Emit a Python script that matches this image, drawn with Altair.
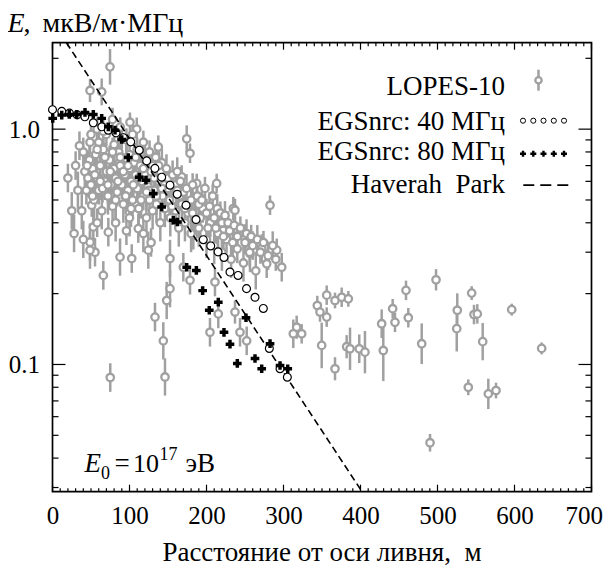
import altair as alt
import pandas as pd

# ---------------- data ----------------
# LOPES-10: distance (m), field (uV/m/MHz), relative error
lopes_d = [74.7, 48.7, 63.9, 100.6, 109.4, 48.7, 46.5, 137.4, 174.3, 178.6, 167.8, 187.3, 213.2, 234.8,
           50.9, 74.7, 53, 72.5, 48.7, 55.2, 87.7, 102.9, 111.4, 152.6, 124.4, 66, 48.7,
           282.5, 237, 250, 256.5, 271.7, 291.2, 278.2, 297.7, 152.6, 148.3, 133.1, 143.9, 146.1,
           178.6, 211, 215.3, 237, 243.5, 252.2, 204.5, 182.9, 221.8, 169.9, 317.1, 312.7, 382, 75,
           323.6, 343.9, 347.4, 356.1, 356.1, 366.9, 375.6, 384.2, 349.6, 366.9, 386.4, 398.4, 405.8,
           427.5, 429.6, 441.8, 444.8, 459.1, 462.1, 479.5, 490.3, 498.1, 525.7, 525, 544.4, 547.4,
           551.7, 540, 558.7, 566, 576, 596.4, 635.3,
           40, 42, 44, 46, 48, 50, 52, 54, 56, 58, 60, 62, 64, 66, 68, 70, 72, 74, 76, 78, 80, 82, 84,
           86, 88, 90, 92, 94, 96, 98, 100, 102, 104, 106, 108, 110, 112, 114, 116, 118, 120, 122, 124,
           126, 128, 130, 132, 135, 138, 140, 143, 146, 150, 153, 156, 160, 164, 168, 172, 176, 180,
           185, 190, 195, 200, 205, 210, 215, 220, 226, 232, 240, 248, 256, 264,
           45, 55, 65, 75, 85, 95, 105, 115, 125, 135, 145, 155, 165, 60, 70, 80, 90, 100, 110, 120,
           130, 140, 150, 160, 170, 180, 190, 200, 210, 220, 230, 240, 250, 260, 270, 280, 290,
           38, 40, 58, 82, 96, 118, 128, 100,
           20, 25, 30, 33, 28, 35,
           50, 58, 66, 78, 88, 96, 104, 118, 126, 134, 142, 148, 156, 162, 166, 174, 182, 188, 194, 198,
           204, 208, 214, 218, 224, 228, 236, 244, 252, 258, 266, 274, 286,
           52, 62, 72, 82, 92, 102, 112, 122, 132, 142, 152, 162, 172, 182, 192, 202, 212, 222, 234,
           58, 68, 78, 88, 98, 108, 118, 128, 138]
lopes_e = [1.84, 1.46, 1.44, 1.07, 1.0, 0.88, 0.70, 0.84, 0.91, 0.79, 0.627, 0.588, 0.588, 0.46,
           0.475, 0.524, 0.384, 0.365, 0.331, 0.30, 0.286, 0.282, 0.378, 0.282, 0.306, 0.239, 0.306,
           0.475, 0.452, 0.343, 0.296, 0.311, 0.306, 0.268, 0.259, 0.210, 0.187, 0.159, 0.126, 0.0885,
           0.228, 0.224, 0.164, 0.167, 0.137, 0.126, 0.137, 0.354, 0.372, 0.259, 0.144, 0.135, 0.119, 0.088,
           0.135, 0.178, 0.167, 0.197, 0.159, 0.187, 0.193, 0.190, 0.1205, 0.0959, 0.1166, 0.1166, 0.1128,
           0.149, 0.1147, 0.1726, 0.151, 0.2065, 0.158, 0.1225, 0.0465, 0.229, 0.170, 0.142, 0.201, 0.163,
           0.164, 0.080, 0.125, 0.075, 0.0775, 0.171, 0.117,
           0.80, 0.66, 0.55, 0.62, 0.74, 0.58, 0.68, 0.50, 0.78, 0.62, 0.55, 0.70, 0.45, 0.82, 0.60, 0.66,
           0.52, 0.74, 0.58, 0.47, 0.68, 0.62, 0.54, 0.80, 0.70, 0.58, 0.48, 0.64, 0.75, 0.55, 0.68, 0.60,
           0.50, 0.72, 0.64, 0.56, 0.46, 0.70, 0.60, 0.52, 0.65, 0.42, 0.57, 0.50, 0.62, 0.45, 0.55, 0.48,
           0.60, 0.40, 0.52, 0.46, 0.56, 0.42, 0.50, 0.45, 0.38, 0.48, 0.40, 0.44, 0.36, 0.42, 0.38, 0.46,
           0.34, 0.40, 0.32, 0.36, 0.30, 0.34, 0.28, 0.31, 0.27, 0.30, 0.25,
           0.70, 0.64, 0.56, 0.66, 0.60, 0.52, 0.58, 0.50, 0.55, 0.52, 0.58, 0.47, 0.52, 0.88, 0.95, 0.86,
           0.92, 0.78, 0.82, 0.74, 0.70, 0.66, 0.62, 0.58, 0.54, 0.50, 0.48, 0.44, 0.42, 0.40, 0.37, 0.35,
           0.33, 0.32, 0.30, 0.29, 0.28,
           0.45, 0.34, 0.40, 0.40, 0.37, 0.36, 0.33, 0.42,
           0.62, 0.45, 0.70, 0.55, 0.36, 0.85,
           0.95, 1.0, 0.98, 1.1, 1.02, 0.90, 0.95, 0.88, 0.80, 0.76, 0.72, 0.68, 0.64, 0.66, 0.60, 0.56,
           0.58, 0.52, 0.50, 0.56, 0.47, 0.52, 0.46, 0.44, 0.43, 0.40, 0.39, 0.38, 0.36, 0.35, 0.34, 0.33,
           0.32,
           0.52, 0.60, 0.58, 0.50, 0.66, 0.46, 0.62, 0.54, 0.62, 0.56, 0.50, 0.55, 0.46, 0.44, 0.42, 0.38,
           0.38, 0.35, 0.33,
           0.82, 0.76, 0.80, 0.76, 0.70, 0.76, 0.68, 0.66, 0.70]
lopes_r = [0.19, 0.12, 0.14, 0.10, 0.12, 0.12, 0.15, 0.12, 0.14, 0.10, 0.12, 0.10, 0.10, 0.12,
           0.12, 0.12, 0.15, 0.15, 0.20, 0.15, 0.20, 0.15, 0.15, 0.20, 0.20, 0.15, 0.20,
           0.10, 0.12, 0.15, 0.20, 0.15, 0.12, 0.15, 0.15, 0.20, 0.20, 0.15, 0.20, 0.20,
           0.15, 0.15, 0.15, 0.12, 0.15, 0.15, 0.15, 0.15, 0.15, 0.15, 0.12, 0.15, 0.12, 0.15,
           0.10, 0.10, 0.10, 0.10, 0.10, 0.08, 0.10, 0.08, 0.25, 0.12, 0.23, 0.15, 0.23,
           0.15, 0.35, 0.10, 0.10, 0.10, 0.10, 0.22, 0.09, 0.11, 0.18, 0.25, 0.07, 0.10,
           0.10, 0.08, 0.20, 0.16, 0.08, 0.06, 0.06,
           0.15, 0.20, 0.15, 0.20, 0.15, 0.20, 0.15, 0.20, 0.15, 0.20, 0.15, 0.20, 0.20, 0.15, 0.20, 0.15,
           0.20, 0.15, 0.20, 0.20, 0.15, 0.20, 0.15, 0.15, 0.20, 0.15, 0.20, 0.15, 0.20, 0.15, 0.20, 0.15,
           0.20, 0.15, 0.20, 0.15, 0.20, 0.15, 0.20, 0.15, 0.20, 0.20, 0.15, 0.20, 0.15, 0.20, 0.15, 0.20,
           0.15, 0.20, 0.15, 0.20, 0.15, 0.20, 0.15, 0.20, 0.20, 0.15, 0.20, 0.15, 0.20, 0.15, 0.20, 0.15,
           0.20, 0.15, 0.20, 0.15, 0.20, 0.15, 0.20, 0.15, 0.20, 0.15, 0.20,
           0.15, 0.20, 0.15, 0.20, 0.15, 0.20, 0.15, 0.20, 0.15, 0.20, 0.15, 0.20, 0.15, 0.15, 0.12, 0.15,
           0.12, 0.15, 0.12, 0.15, 0.12, 0.15, 0.12, 0.15, 0.12, 0.15, 0.12, 0.15, 0.12, 0.15, 0.12, 0.15,
           0.12, 0.15, 0.12, 0.15, 0.12,
           0.20, 0.20, 0.15, 0.20, 0.15, 0.20, 0.15, 0.20,
           0.15, 0.20, 0.15, 0.20, 0.20, 0.15,
           0.12, 0.12, 0.12, 0.12, 0.10, 0.12, 0.12, 0.12, 0.12, 0.12, 0.15, 0.15, 0.15, 0.15, 0.15, 0.15,
           0.12, 0.15, 0.15, 0.12, 0.15, 0.12, 0.15, 0.12, 0.15, 0.12, 0.15, 0.12, 0.15, 0.12, 0.15, 0.12,
           0.15,
           0.20, 0.20, 0.20, 0.20, 0.20, 0.20, 0.20, 0.20, 0.20, 0.20, 0.20, 0.20, 0.20, 0.20, 0.20, 0.20,
           0.20, 0.20, 0.20,
           0.15, 0.15, 0.15, 0.15, 0.15, 0.15, 0.15, 0.15, 0.15]

# EGSnrc 40 MHz
egs40_d = [0, 12, 22, 32, 42, 53, 64, 72.5, 82.5, 92, 101.6, 112.7, 122.3, 133, 141.8, 152.6, 162,
           173.4, 186.4, 195.8, 205.5, 215, 222.7, 230.5, 241, 252, 263, 273.8, 281.6, 295.5, 305]
egs40_e = [1.21, 1.19, 1.17, 1.15, 1.128, 1.064, 1.023, 0.990, 0.964, 0.92, 0.883, 0.814, 0.733,
           0.681, 0.625, 0.578, 0.529, 0.475, 0.413, 0.339, 0.319, 0.301, 0.285, 0.247, 0.239, 0.210,
           0.193, 0.173, 0.117, 0.0959, 0.0883]

# EGSnrc 80 MHz
egs80_d = [0.3, 12, 21.8, 31.4, 42.2, 53, 63.9, 72.5, 81.2, 89.9, 98.4, 112.7, 121.4, 130.9, 141.8,
           156.9, 162.1, 174.3, 186.8, 195, 203.6, 215.3, 222.7, 230.5, 240, 251.3, 263, 271.7, 282.5,
           295.5, 305.5]
egs80_e = [1.111, 1.147, 1.155, 1.155, 1.178, 1.155, 1.111, 1.023, 0.990, 0.904, 0.758, 0.625, 0.607,
           0.532, 0.467, 0.410, 0.403, 0.259, 0.251, 0.206, 0.170, 0.184, 0.137, 0.122, 0.101, 0.158,
           0.106, 0.0959, 0.1226, 0.099, 0.0959]

# Haverah Park parametrisation (straight line in log scale)
hp_d = [18, 402]
hp_e = [2.33, 0.0288]

x_ticks = [0, 100, 200, 300, 400, 500, 600, 700]
y_ticks = [0.1, 1.0]
x_minor = [v for v in range(0, 701, 10) if v % 100 != 0]
y_minor = [0.03, 0.04, 0.05, 0.06, 0.07, 0.08, 0.09, 0.2, 0.3, 0.4, 0.5, 0.6, 0.7, 0.8, 0.9, 2.0]

legend_labels = ["LOPES-10", "EGSnrc: 40 МГц", "EGSnrc: 80 МГц", "Haverah\u00a0\u00a0Park"]

# ---------------- chart ----------------
W, H = 539, 449
FONT = "Liberation Serif"
GREY = "#a0a0a0"

xs = alt.Scale(domain=[0, 700], nice=False, zero=False)
ys = alt.Scale(type="log", domain=[0.0288, 2.33], nice=False)
XAX = alt.Axis(values=x_ticks, format="d", ticks=False, domain=False, grid=False, labelFlush=False,
               labelAlign=alt.expr("datum.value == 700 ? 'right' : 'center'"),
               labelOffset=alt.expr("datum.value == 700 ? 11 : 0"),
               labelFont=FONT, labelFontSize=25, labelColor="black", labelPadding=12, title=None)
YAX = alt.Axis(values=y_ticks, format=".1f", ticks=False, domain=False, grid=False, labelFlush=False,
               labelFont=FONT, labelFontSize=25, labelColor="black", labelPadding=13, title=None)

lopes = pd.DataFrame({"d": lopes_d, "e": lopes_e, "r": lopes_r})
lopes["lo"] = lopes["e"] / (1 + lopes["r"])
lopes["hi"] = lopes["e"] * (1 + lopes["r"])
e40 = pd.DataFrame({"d": egs40_d, "e": egs40_e})
e80 = pd.DataFrame({"d": egs80_d, "e": egs80_e})
hp = pd.DataFrame({"d": hp_d, "e": hp_e})


def X(f="d"):
    return alt.X(f"{f}:Q", scale=xs, axis=XAX)


def Y(f="e"):
    return alt.Y(f"{f}:Q", scale=ys, axis=YAX)


err = alt.Chart(lopes).mark_rule(color=GREY, strokeWidth=2.5).encode(x=X(), y=Y("lo"), y2="hi:Q")
pts = alt.Chart(lopes).mark_point(shape="circle", size=55, filled=False, fill="white", fillOpacity=1,
                                  color=GREY, strokeWidth=2.3, opacity=1).encode(x=X(), y=Y())
hp_line = alt.Chart(hp).mark_line(color="black", strokeWidth=1.6, strokeDash=[7, 4], clip=True).encode(
    x=X(), y=Y())
c40 = alt.Chart(e40).mark_point(shape="circle", size=62, filled=False, fill="white", fillOpacity=1,
                                color="black", strokeWidth=1.2, opacity=1).encode(x=X(), y=Y())
c80 = alt.Chart(e80).mark_point(shape="cross", size=75, filled=True, color="black", opacity=1).encode(
    x=X(), y=Y())


def tick_layers():
    out = []
    for vals, ln in ((x_ticks, 7), (x_minor, 3.5)):
        df = pd.DataFrame({"d": vals})
        out.append(alt.Chart(df).mark_rule(color="black", strokeWidth=1.2).encode(
            x=X(), y=alt.value(H), y2=alt.value(H - ln)))
        out.append(alt.Chart(df).mark_rule(color="black", strokeWidth=1.2).encode(
            x=X(), y=alt.value(0), y2=alt.value(ln)))
    for vals, ln in ((y_ticks, 13), (y_minor, 6)):
        df = pd.DataFrame({"e": vals})
        out.append(alt.Chart(df).mark_rule(color="black", strokeWidth=1.2).encode(
            y=Y(), x=alt.value(0), x2=alt.value(ln)))
        out.append(alt.Chart(df).mark_rule(color="black", strokeWidth=1.2).encode(
            y=Y(), x=alt.value(W), x2=alt.value(W - ln)))
    return out


one = pd.DataFrame({"a": [0]})


def txt(text, x, y, size=27, align="left", baseline="alphabetic", italic=False):
    return alt.Chart(one).mark_text(text=text, font=FONT, fontSize=size, align=align, baseline=baseline,
                                    fontStyle="italic" if italic else "normal", color="black").encode(
        x=alt.value(x), y=alt.value(y))


texts = [
    # y title
    txt("E", -45, -11, size=28, italic=True),
    txt(",", -29, -11, size=28),
    txt("мкВ/м·МГц", -10, -11, size=28),
    # x title
    txt("Расстояние от оси ливня,\u00a0\u00a0м", W / 2, 518, size=27, align="center"),
    # energy annotation
    txt("E", 32, 429, size=27, italic=True),
    txt("0", 48.5, 436, size=18),
    txt("=", 62, 429, size=27),
    txt("10", 80.5, 429, size=26),
    txt("17", 107, 417, size=18),
    txt("эВ", 133, 429, size=27),
]

# legend
leg_y = [44.5, 79, 109.5, 142.5]
for lab, yy in zip(legend_labels, leg_y):
    texts.append(txt(lab, 452.5, yy, size=27, align="right", baseline="middle"))

sym_x = [470.5, 480.8, 491.0, 501.3, 511.5]
legend_syms = []
for sx in sym_x:
    legend_syms.append(alt.Chart(one).mark_point(
        shape="circle", size=26, filled=False, color="black", strokeWidth=1, opacity=1).encode(
        x=alt.value(sx), y=alt.value(78)))
    legend_syms.append(alt.Chart(one).mark_point(
        shape="cross", size=36, filled=True, color="black", opacity=1).encode(
        x=alt.value(sx), y=alt.value(111)))
legend_syms.append(alt.Chart(one).mark_rule(color=GREY, strokeWidth=2.5).encode(
    x=alt.value(486), y=alt.value(27), y2=alt.value(48)))
legend_syms.append(alt.Chart(one).mark_point(shape="circle", size=40, filled=False, fill="white",
                                             fillOpacity=1, color=GREY, strokeWidth=2.3, opacity=1).encode(
    x=alt.value(486), y=alt.value(37.5)))
legend_syms.append(alt.Chart(one).mark_rule(color="black", strokeWidth=1.8, strokeDash=[11, 6]).encode(
    x=alt.value(470.8), x2=alt.value(516), y=alt.value(142.5)))

chart = alt.layer(
    err, pts, hp_line, c40, c80, *tick_layers(), *texts, *legend_syms
).properties(
    width=W, height=H,
    autosize=alt.AutoSizeParams(type="none"),
    padding={"left": 44.5, "top": 34.7, "right": 11, "bottom": 74},
).configure_view(stroke="black", strokeWidth=1.7)

chart.save("out.html", embed_options={"renderer": "svg", "actions": False})
